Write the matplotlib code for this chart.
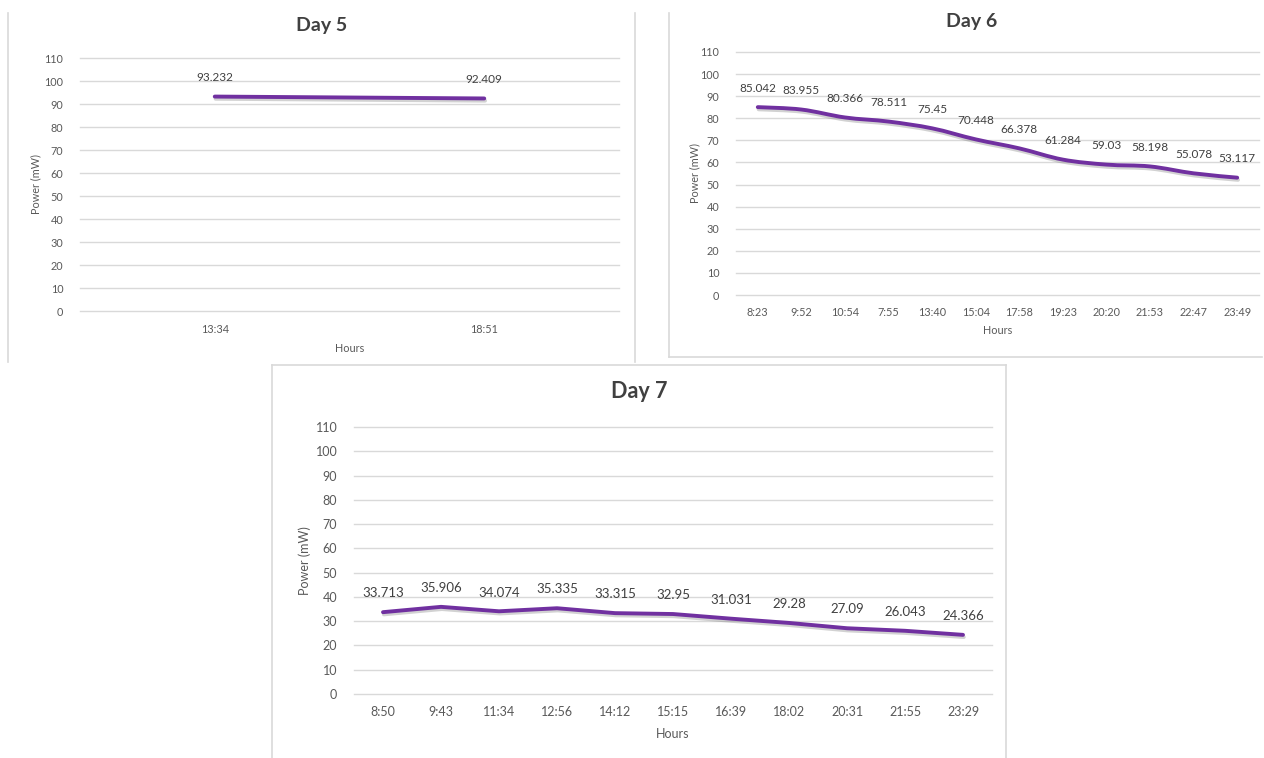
import matplotlib
matplotlib.use("Agg")
import matplotlib.pyplot as plt
import numpy as np
from matplotlib.path import Path
from matplotlib.patches import PathPatch
from matplotlib.lines import Line2D
import matplotlib.patheffects as pe

plt.rcParams['font.family'] = ['Lato', 'DejaVu Sans']

# Power readings per day
day5_hours = ["13:34", "18:51"]
day5_power = [93.232, 92.409]

day6_hours = ["8:23", "9:52", "10:54", "7:55", "13:40", "15:04", "17:58",
              "19:23", "20:20", "21:53", "22:47", "23:49"]
day6_power = [85.042, 83.955, 80.366, 78.511, 75.45, 70.448, 66.378,
              61.284, 59.03, 58.198, 55.078, 53.117]

day7_hours = ["8:50", "9:43", "11:34", "12:56", "14:12", "15:15", "16:39",
              "18:02", "20:31", "21:55", "23:29"]
day7_power = [33.713, 35.906, 34.074, 35.335, 33.315, 32.95, 31.031,
              29.28, 27.09, 26.043, 24.366]

y_ticks = list(range(0, 111, 10))

LINE_COLOR = "#7030A0"
GRID_COLOR = "#D9D9D9"
TICK_COLOR = "#595959"
LABEL_COLOR = "#404040"
FRAME_COLOR = "#D9D9D9"

W, H = 1264, 758
fig = plt.figure(figsize=(W / 100, H / 100), dpi=100)
fig.patch.set_facecolor("white")


def line_path(xs, ys, smooth):
    """Path through the points; cubic Bezier (Catmull-Rom style) if smooth."""
    pts = np.column_stack([xs, ys]).astype(float)
    n = len(pts)
    if not smooth:
        return Path(pts, [Path.MOVETO] + [Path.LINETO] * (n - 1))
    verts = [pts[0]]
    codes = [Path.MOVETO]
    for i in range(n - 1):
        p0 = pts[i - 1] if i > 0 else pts[i]
        p1 = pts[i]
        p2 = pts[i + 1]
        p3 = pts[i + 2] if i + 2 < n else pts[i + 1]
        c1 = p1 + (p2 - p0) / 6.0
        c2 = p2 - (p3 - p1) / 6.0
        verts += [c1, c2, p2]
        codes += [Path.CURVE4] * 3
    return Path(verts, codes)


def px_rect(x0, x1, ytop, ybot):
    return [x0 / W, 1 - ybot / H, (x1 - x0) / W, (ybot - ytop) / H]


def draw_panel(rect, title, hours, power, tick_fs, lab_fs, title_fs,
               title_y, xlabel_y, ylabel_x, title_x, smooth):
    ax = fig.add_axes(rect)
    x = np.arange(len(hours))
    ax.set_xlim(-0.5, len(hours) - 0.5)
    ax.set_ylim(0, 110)
    ax.set_yticks(y_ticks)
    ax.set_xticks(x)
    ax.set_xticklabels(hours)
    ax.tick_params(axis="both", length=0, colors=TICK_COLOR, labelsize=tick_fs)
    ax.tick_params(axis="y", pad=12)
    ax.tick_params(axis="x", pad=9)
    for s in ax.spines.values():
        s.set_visible(False)
    ax.grid(axis="y", color=GRID_COLOR, linewidth=1.0)
    for gl in ax.get_ygridlines():
        gl.set_clip_on(False)
    ax.set_axisbelow(True)
    ax.patch.set_alpha(0)

    patch = PathPatch(line_path(x, power, smooth), facecolor="none",
                      edgecolor=LINE_COLOR, linewidth=2.8,
                      capstyle="round", joinstyle="round", zorder=3,
                      clip_on=False)
    patch.set_path_effects([
        pe.SimpleLineShadow(offset=(0.6, -1.6), shadow_color="#808080",
                            alpha=0.35),
        pe.Normal()])
    ax.add_patch(patch)

    for xi, v in zip(x, power):
        ax.annotate(f"{v:g}", (xi, v), xytext=(0, 13.5),
                    textcoords="offset points", ha="center", va="center",
                    fontsize=lab_fs, color=LABEL_COLOR)

    pos = ax.get_position()
    fig.text(title_x / W, 1 - title_y / H, title, ha="center", va="center",
             fontsize=title_fs, fontweight="bold", color=LABEL_COLOR)
    fig.text(pos.x0 + pos.width / 2, 1 - xlabel_y / H, "Hours",
             ha="center", va="center", fontsize=tick_fs, color=TICK_COLOR)
    fig.text(ylabel_x / W, pos.y0 + pos.height / 2, "Power (mW)",
             ha="center", va="center", rotation=90, fontsize=tick_fs,
             color=TICK_COLOR)
    return ax


def fig_line(xs, ys):
    fig.add_artist(Line2D([v / W for v in xs], [1 - v / H for v in ys],
                          color=FRAME_COLOR, linewidth=1.2))


# Chart frames
fig_line([8, 8], [13, 362])
fig_line([635, 635], [13, 362])
fig_line([669, 669], [13, 357])
fig_line([669, 1262], [357, 357])
fig_line([272, 1006], [365, 365])
fig_line([272, 272], [365, 758])
fig_line([1006, 1006], [365, 758])

draw_panel(px_rect(80, 619, 58, 311), "Day 5", day5_hours, day5_power,
           tick_fs=7.8, lab_fs=8.5, title_fs=14, title_y=26, xlabel_y=349,
           ylabel_x=36, title_x=322, smooth=False)
draw_panel(px_rect(736, 1259, 52, 295), "Day 6", day6_hours, day6_power,
           tick_fs=7.8, lab_fs=8.5, title_fs=14, title_y=22, xlabel_y=331,
           ylabel_x=695, title_x=972, smooth=True)
draw_panel(px_rect(354, 992, 427, 694), "Day 7", day7_hours, day7_power,
           tick_fs=9, lab_fs=9.5, title_fs=15.5, title_y=392, xlabel_y=734,
           ylabel_x=305, title_x=639, smooth=False)

fig.savefig("out.png", dpi=100, facecolor="white")
